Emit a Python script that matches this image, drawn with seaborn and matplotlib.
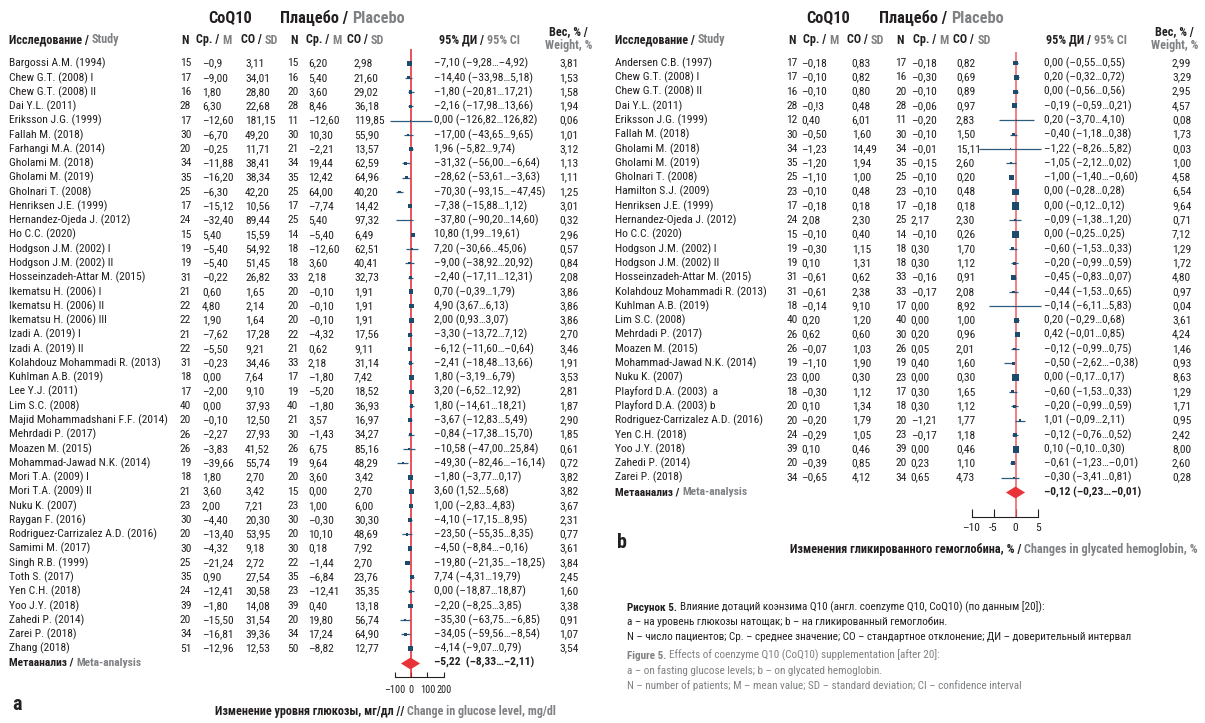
import numpy as np
import pandas as pd
import matplotlib
matplotlib.use('Agg')
import matplotlib.pyplot as plt
import seaborn as sns
from matplotlib import font_manager
from matplotlib.font_manager import FontProperties

# ---------------- panel a: fasting glucose ----------------
a_studies = [
    "Bargossi A.M. (1994)", "Chew G.T. (2008) I", "Chew G.T. (2008) II", "Dai Y.L. (2011)",
    "Eriksson J.G. (1999)", "Fallah M. (2018)", "Farhangi M.A. (2014)", "Gholami M. (2018)",
    "Gholami M. (2019)", "Gholnari T. (2008)", "Henriksen J.E. (1999)", "Hernandez-Ojeda J. (2012)",
    "Ho C.C. (2020)", "Hodgson J.M. (2002) I", "Hodgson J.M. (2002) II", "Hosseinzadeh-Attar M. (2015)",
    "Ikematsu H. (2006) I", "Ikematsu H. (2006) II", "Ikematsu H. (2006) III", "Izadi A. (2019) I",
    "Izadi A. (2019) II", "Kolahdouz Mohammadi R. (2013)", "Kuhlman A.B. (2019)", "Lee Y.J. (2011)",
    "Lim S.C. (2008)", "Majid Mohammadshani F.F. (2014)", "Mehrdadi P. (2017)", "Moazen M. (2015)",
    "Mohammad-Jawad N.K. (2014)", "Mori T.A. (2009) I", "Mori T.A. (2009) II", "Nuku K. (2007)",
    "Raygan F. (2016)", "Rodriguez-Carrizalez A.D. (2016)", "Samimi M. (2017)", "Singh R.B. (1999)",
    "Toth S. (2017)", "Yen C.H. (2018)", "Yoo J.Y. (2018)", "Zahedi P. (2014)",
    "Zarei P. (2018)", "Zhang (2018)"]
a_n1 = [15, 17, 16, 28, 17, 30, 20, 34, 35, 25, 17, 24, 15, 19, 19, 31, 21, 22, 22, 21, 22,
        31, 18, 17, 40, 20, 26, 26, 19, 18, 21, 23, 30, 20, 30, 25, 35, 24, 39, 20, 34, 51]
a_m1 = ["–0,9", "–9,00", "1,80", "6,30", "–12,60", "–6,70", "–0,25", "–11,88", "–16,20", "–6,30",
        "–15,12", "–32,40", "5,40", "–5,40", "–5,40", "–0,22", "0,60", "4,80", "1,90", "–7,62",
        "–5,50", "–0,23", "0,00", "–2,00", "0,00", "–0,10", "–2,27", "–3,83", "–39,66", "1,80",
        "3,60", "2,00", "–4,40", "–13,40", "–4,32", "–21,24", "0,90", "–12,41", "–1,80", "–15,50",
        "–16,81", "–12,96"]
a_sd1 = ["3,11", "34,01", "28,80", "22,68", "181,15", "49,20", "11,71", "38,41", "38,34", "42,20",
         "10,56", "89,44", "15,59", "54,92", "51,45", "26,82", "1,65", "2,14", "1,64", "17,28",
         "9,21", "34,46", "7,64", "9,10", "37,93", "12,50", "27,93", "41,52", "55,74", "2,70",
         "3,42", "7,21", "20,30", "53,95", "9,18", "2,72", "27,54", "30,58", "14,08", "31,54",
         "39,36", "12,53"]
a_n2 = [15, 16, 20, 28, 11, 30, 21, 34, 35, 25, 17, 25, 14, 18, 18, 33, 20, 20, 20, 22, 21,
        33, 17, 19, 40, 21, 30, 26, 19, 20, 15, 23, 30, 20, 30, 22, 35, 23, 39, 20, 34, 50]
a_m2 = ["6,20", "5,40", "3,60", "8,46", "–12,60", "10,30", "–2,21", "19,44", "12,42", "64,00",
        "–7,74", "5,40", "–5,40", "–12,60", "3,60", "2,18", "–0,10", "–0,10", "–0,10", "–4,32",
        "0,62", "2,18", "–1,80", "–5,20", "–1,80", "3,57", "–1,43", "6,75", "9,64", "3,60",
        "0,00", "1,00", "–0,30", "10,10", "0,18", "–1,44", "–6,84", "–12,41", "0,40", "19,80",
        "17,24", "–8,82"]
a_sd2 = ["2,98", "21,60", "29,02", "36,18", "119,85", "55,90", "13,57", "62,59", "64,96", "40,20",
         "14,42", "97,32", "6,49", "62,51", "40,41", "32,73", "1,91", "1,91", "1,91", "17,56",
         "9,11", "31,14", "7,42", "18,52", "36,93", "16,97", "34,27", "85,16", "48,29", "3,42",
         "2,70", "6,00", "30,30", "48,69", "7,92", "2,70", "23,76", "35,35", "13,18", "56,74",
         "64,90", "12,77"]
a_est = [-7.10, -14.40, -1.80, -2.16, 0.00, -17.00, 1.96, -31.32, -28.62, -70.30, -7.38, -37.80,
         10.80, 7.20, -9.00, -2.40, 0.70, 4.90, 2.00, -3.30, -6.12, -2.41, 1.80, 3.20, 1.80, -3.67,
         -0.84, -10.58, -49.30, -1.80, 3.60, 1.00, -4.10, -23.50, -4.50, -19.80, 7.74, 0.00, -2.20,
         -35.30, -34.05, -4.14]
a_lo = [-9.28, -33.98, -20.81, -17.98, -126.82, -43.65, -5.82, -56.00, -53.61, -93.15, -15.88,
        -90.20, 1.99, -30.66, -38.92, -17.11, -0.39, 3.67, 0.93, -13.72, -11.60, -18.48, -3.19,
        -6.52, -14.61, -12.83, -17.38, -47.00, -82.46, -3.77, 1.52, -2.83, -17.15, -55.35, -8.84,
        -21.35, -4.31, -18.87, -8.25, -63.75, -59.56, -9.07]
a_hi = [-4.92, 5.18, 17.21, 13.66, 126.82, 9.65, 9.74, -6.64, -3.63, -47.45, 1.12, 14.60, 19.61,
        45.06, 20.92, 12.31, 1.79, 6.13, 3.07, 7.12, -0.64, 13.66, 6.79, 12.92, 18.21, 5.49, 15.70,
        25.84, -16.14, 0.17, 5.68, 4.83, 8.95, 8.35, -0.16, -18.25, 19.79, 18.87, 3.85, -6.85,
        -8.54, 0.79]
a_weight = [3.81, 1.53, 1.58, 1.94, 0.06, 1.01, 3.12, 1.13, 1.11, 1.25, 3.01, 0.32, 2.96, 0.57,
            0.84, 2.08, 3.86, 3.86, 3.86, 2.70, 3.46, 1.91, 3.53, 2.81, 1.87, 2.90, 1.85, 0.61,
            0.72, 3.82, 3.82, 3.67, 2.31, 0.77, 3.61, 3.84, 2.45, 1.60, 3.38, 0.91, 1.07, 3.54]
a_meta = [-5.22, -8.33, -2.11]
a_ticks = [-100, 0, 100, 200]
a_ticklabels = ["–100", "0", "100", "200"]

# ---------------- panel b: glycated haemoglobin ----------------
b_studies = [
    "Andersen C.B. (1997)", "Chew G.T. (2008) I", "Chew G.T. (2008) II", "Dai Y.L. (2011)",
    "Eriksson J.G. (1999)", "Fallah M. (2018)", "Gholami M. (2018)", "Gholami M. (2019)",
    "Gholnari T. (2008)", "Hamilton S.J. (2009)", "Henriksen J.E. (1999)", "Hernandez-Ojeda J. (2012)",
    "Ho C.C. (2020)", "Hodgson J.M. (2002) I", "Hodgson J.M. (2002) II", "Hosseinzadeh-Attar M. (2015)",
    "Kolahdouz Mohammadi R. (2013)", "Kuhlman A.B. (2019)", "Lim S.C. (2008)", "Mehrdadi P. (2017)",
    "Moazen M. (2015)", "Mohammad-Jawad N.K. (2014)", "Nuku K. (2007)", "Playford D.A. (2003)  a",
    "Playford D.A. (2003) b", "Rodriguez-Carrizalez A.D. (2016)", "Yen C.H. (2018)", "Yoo J.Y. (2018)",
    "Zahedi P. (2014)", "Zarei P. (2018)"]
b_n1 = [17, 17, 16, 28, 12, 30, 34, 35, 25, 23, 17, 24, 15, 19, 19, 31, 31, 18, 40, 26, 26, 19,
        23, 18, 20, 20, 24, 39, 20, 34]
b_m1 = ["–0,18", "–0,10", "–0,10", "–0,!3", "0,40", "–0,50", "–1,23", "–1,20", "–1,10", "–0,10",
        "–0,18", "2,08", "–0,10", "–0,30", "0,10", "–0,61", "–0,61", "–0,14", "0,20", "0,62",
        "–0,07", "–1,10", "0,00", "–0,30", "0,10", "–0,20", "–0,29", "0,10", "–0,39", "–0,65"]
b_sd1 = ["0,83", "0,82", "0,80", "0,48", "6,01", "1,60", "14,49", "1,94", "1,00", "0,48", "0,18",
         "2,30", "0,40", "1,15", "1,31", "0,62", "2,38", "9,10", "1,20", "0,60", "1,03", "1,90",
         "0,30", "1,12", "1,34", "1,79", "1,05", "0,46", "0,85", "4,12"]
b_n2 = [17, 16, 20, 28, 11, 30, 34, 35, 25, 23, 17, 25, 14, 18, 18, 33, 33, 17, 40, 30, 26, 19,
        23, 17, 18, 20, 23, 39, 20, 34]
b_m2 = ["–0,18", "–0,30", "–0,10", "–0,06", "–0,20", "–0,10", "–0,01", "–0,15", "–0,10", "–0,10",
        "–0,18", "2,17", "–0,10", "0,30", "0,30", "–0,16", "–0,17", "0,00", "0,00", "0,20",
        "0,05", "0,40", "0,00", "0,30", "0,30", "–1,21", "–0,17", "0,00", "0,23", "0,65"]
b_sd2 = ["0,82", "0,69", "0,89", "0,97", "2,83", "1,50", "15,11", "2,60", "0,20", "0,48", "0,18",
         "2,30", "0,26", "1,70", "1,12", "0,91", "2,08", "8,92", "1,00", "0,96", "2,01", "1,60",
         "0,30", "1,65", "1,12", "1,77", "1,18", "0,46", "1,10", "4,73"]
b_est = [0.00, 0.20, 0.00, -0.19, 0.20, -0.40, -1.22, -1.05, -1.00, 0.00, 0.00, -0.09, 0.00,
         -0.60, -0.20, -0.45, -0.44, -0.14, 0.20, 0.42, -0.12, -0.50, 0.00, -0.60, -0.20, 1.01,
         -0.12, 0.10, -0.61, -0.30]
b_lo = [-0.55, -0.32, -0.56, -0.59, -3.70, -1.18, -8.26, -2.12, -1.40, -0.28, -0.12, -1.38, -0.25,
        -1.53, -0.99, -0.83, -1.53, -6.11, -0.29, -0.01, -0.99, -2.62, -0.17, -1.53, -0.99, -0.09,
        -0.76, -0.10, -1.23, -3.41]
b_hi = [0.55, 0.72, 0.56, 0.21, 4.10, 0.38, 5.82, 0.02, -0.60, 0.28, 0.12, 1.20, 0.25, 0.33, 0.59,
        0.07, 0.65, 5.83, 0.68, 0.85, 0.75, -0.38, 0.17, 0.33, 0.59, 2.11, 0.52, 0.30, -0.01, 0.81]
b_weight = [2.99, 3.29, 2.95, 4.57, 0.08, 1.73, 0.03, 1.00, 4.58, 6.54, 9.64, 0.71, 7.12, 1.29,
            1.72, 4.80, 0.97, 0.04, 3.61, 4.24, 1.46, 0.93, 8.63, 1.29, 1.71, 0.95, 2.42, 8.00,
            2.60, 0.28]
b_meta = [-0.12, -0.23, -0.01]
b_ticks = [-10, -5, 0, 5]
b_ticklabels = ["–10", "-5", "0", "5"]

# ---------------- style ----------------
sns.set_theme(style="white")
avail = {f.name for f in font_manager.fontManager.ttflist}
FAM = "DejaVu Sans"
for cand in ["Liberation Sans Narrow", "Roboto Condensed", "Noto Sans Condensed",
             "Open Sans Condensed", "Roboto", "Liberation Sans"]:
    if cand in avail:
        FAM = cand
        break
plt.rcParams["font.family"] = [FAM, "DejaVu Sans"]

BLACK = "#231f20"
GRAY = "#7f8184"
NAVY = "#1c4b6c"
WHISK = "#2f5b7c"
RED_A = "#e3232a"
RED_B = "#ee5b60"
DIAM = "#ea3338"

W, H = 1205, 723
fig = plt.figure(figsize=(W / 100, H / 100), dpi=100)
bg = fig.add_axes([0, 0, 1, 1])
bg.set_xlim(0, W)
bg.set_ylim(H, 0)
bg.axis("off")
renderer = fig.canvas.get_renderer()


def width_px(s, weight="normal"):
    fp = FontProperties(family=[FAM, "DejaVu Sans"], size=10, weight=weight)
    w, h, d = renderer.get_text_width_height_descent(s, fp, ismath=False)
    return w


def fit(s, target, weight="normal"):
    return 10.0 * target / width_px(s, weight)


FS_ROW = 0.5 * (fit("Rodriguez-Carrizalez A.D. (2016)", 147) + fit("Majid Mohammadshani F.F. (2014)", 157))
FS_HDR = fit("Исследование / Study", 110, "bold")
FS_TOP = fit("Плацебо / Placebo", 124, "bold")
FS_XLA = fit("Изменение уровня глюкозы, мг/дл // Change in glucose level, mg/dl", 341, "bold")
FS_XLB = fit("Изменения гликированного гемоглобина, % / Changes in glycated hemoglobin, %", 407, "bold")
FS_CAP = fit("N – число пациентов; Ср. – среднее значение; СО – стандартное отклонение; ДИ – доверительный интервал", 506)


def txt(x, y, parts, size, weight="normal", ha="left"):
    """parts: str or list of (text, colour[, weight]) drawn one after another."""
    if isinstance(parts, str):
        parts = [(parts, BLACK)]
    p0 = parts[0]
    t = bg.text(x, y, p0[0], color=p0[1], fontsize=size,
                fontweight=p0[2] if len(p0) > 2 else weight, ha=ha, va="center")
    prev = t
    for p in parts[1:]:
        prev = bg.annotate(p[0], xy=(1, 0), xycoords=prev, xytext=(size * 0.25, 0),
                           textcoords="offset points", color=p[1], fontsize=size,
                           fontweight=p[2] if len(p) > 2 else weight, ha="left", va="bottom")
    return t


def fmt(v):
    return f"{v:.2f}".replace(".", ",").replace("-", "–")


def ci_text(e, lo, hi, sep=" "):
    return f"{fmt(e)}{sep}({fmt(lo)}…{fmt(hi)})"


panels = [
    dict(studies=a_studies, n1=a_n1, m1=a_m1, sd1=a_sd1, n2=a_n2, m2=a_m2, sd2=a_sd2,
         est=a_est, lo=a_lo, hi=a_hi, w=a_weight, meta=a_meta, ticks=a_ticks, tl=a_ticklabels,
         y0=63.5, dy=14.27, cols=[9, 180, 202, 245, 287, 308, 354, 434, 559],
         hdr=[9, 181.6, 196.2, 241, 290.6, 306, 347.2, 439, 548.8, 545],
         top=[208.4, 280.3], ax_x=(394.5, 443.8), xlim=(-100, 200), ax_y=(49, 677),
         red=RED_A, tick_len=3.5, pad=6.0, meta_sep="  ", tick_fs=0.9,
         letter=("a", 12, 704), xl=([("Изменение уровня глюкозы, мг/дл //", BLACK),
                                     ("Change in glucose level, mg/dl", GRAY)], 215, 711, FS_XLA)),
    dict(studies=b_studies, n1=b_n1, m1=b_m1, sd1=b_sd1, n2=b_n2, m2=b_m2, sd2=b_sd2,
         est=b_est, lo=b_lo, hi=b_hi, w=b_weight, meta=b_meta, ticks=b_ticks, tl=b_ticklabels,
         y0=63.0, dy=14.3, cols=[615, 786.5, 801, 851.7, 895.4, 910.8, 956, 1044.5, 1172],
         hdr=[615, 788, 802.7, 847, 896.5, 912.7, 953.3, 1046, 1154.8, 1151.4],
         top=[806.6, 878.8], ax_x=(971.5, 1038.4), xlim=(-10, 5.2), ax_y=(52, 517),
         red=RED_B, tick_len=5.5, pad=4.5, meta_sep=" ", tick_fs=1.0,
         letter=("b", 617, 543), xl=([("Изменения гликированного гемоглобина, % /", BLACK),
                                      ("Changes in glycated hemoglobin, %", GRAY)], 790, 550, FS_XLB)),
]

for P in panels:
    c = P["cols"]
    h = P["hdr"]
    # top headers
    txt(P["top"][0], 18, "CoQ10", FS_TOP, "bold")
    txt(P["top"][1], 18, [("Плацебо /", BLACK), ("Placebo", GRAY)], FS_TOP, "bold")
    # column headers
    txt(h[0], 40, [("Исследование /", BLACK), ("Study", GRAY)], FS_HDR, "bold")
    txt(h[1], 40, "N", FS_HDR, "bold")
    txt(h[2], 40, [("Ср. /", BLACK), ("М", GRAY)], FS_HDR, "bold")
    txt(h[3], 40, [("СО /", BLACK), ("SD", GRAY)], FS_HDR, "bold")
    txt(h[4], 40, "N", FS_HDR, "bold")
    txt(h[5], 40, [("Ср. /", BLACK), ("М", GRAY)], FS_HDR, "bold")
    txt(h[6], 40, [("СО /", BLACK), ("SD", GRAY)], FS_HDR, "bold")
    txt(h[7], 40, [("95% ДИ /", BLACK), ("95% CI", GRAY)], FS_HDR, "bold")
    txt(h[8], 32, "Вес, % /", FS_HDR, "bold")
    txt(h[9], 45.5, [("Weight, %", GRAY)], FS_HDR, "bold")

    n = len(P["studies"])
    for i in range(n):
        y = P["y0"] + i * P["dy"]
        vals = [P["studies"][i], str(P["n1"][i]), P["m1"][i], P["sd1"][i], str(P["n2"][i]),
                P["m2"][i], P["sd2"][i], ci_text(P["est"][i], P["lo"][i], P["hi"][i]),
                fmt(P["w"][i])]
        for x, v in zip(c, vals):
            txt(x, y, v, FS_ROW)
    ym = P["y0"] + n * P["dy"]
    txt(c[0], ym, [("Метаанализ /", BLACK), ("Meta-analysis", GRAY)], FS_ROW, "bold")
    txt(c[7], ym, ci_text(*P["meta"], sep=P["meta_sep"]), FS_ROW, "bold")

    # forest plot axes
    x0, x1 = P["ax_x"]
    yt, yb = P["ax_y"]
    ax = fig.add_axes([x0 / W, 1 - yb / H, (x1 - x0) / W, (yb - yt) / H])
    ax.patch.set_visible(False)
    df = pd.DataFrame({"est": P["est"], "lo": P["lo"], "hi": P["hi"], "w": P["w"],
                       "row": np.arange(n)})
    ax.axvline(0, color=P["red"], lw=1.1, zorder=1)
    ax.hlines(df["row"], df["lo"], df["hi"], color=WHISK, lw=0.9, clip_on=False, zorder=2)
    sns.scatterplot(data=df, x="est", y="row", size="w", sizes=(0.3, 30), size_norm=(0, 10),
                    marker="s", color=NAVY, linewidth=0, legend=False, ax=ax, clip_on=False,
                    zorder=3)
    diamond = [(-1, 0), (0, 0.62), (1, 0), (0, -0.62), (-1, 0)]
    mdf = pd.DataFrame({"est": [P["meta"][0]], "row": [n]})
    sns.scatterplot(data=mdf, x="est", y="row", marker=diamond, s=190, color=DIAM,
                    linewidth=0, legend=False, ax=ax, clip_on=False, zorder=4)
    ax.set_xlim(*P["xlim"])
    ax.set_ylim((yb - P["y0"]) / P["dy"], (yt - P["y0"]) / P["dy"])
    ax.set_xlabel("")
    ax.set_ylabel("")
    ax.set_yticks([])
    ax.set_xticks(P["ticks"], P["tl"])
    sns.despine(ax=ax, left=True)
    ax.spines["bottom"].set_color(BLACK)
    ax.spines["bottom"].set_linewidth(0.8)
    ax.tick_params(axis="x", direction="in", length=P["tick_len"], width=0.8, colors=BLACK,
                   labelsize=FS_ROW * P["tick_fs"], pad=P["pad"], bottom=True)

    # x label and panel letter
    parts, xx, yy, fs = P["xl"]
    txt(xx, yy, parts, fs, "bold")
    L, lx, ly = P["letter"]
    txt(lx, ly, L, FS_ROW * 1.75, "bold")

# caption
cap_x = 627
txt(cap_x, 608, [("Рисунок 5.", BLACK, "bold"),
                 ("Влияние дотаций коэнзима Q10 (англ. coenzyme Q10, CoQ10) (по данным [20]):", BLACK)],
    FS_CAP)
txt(cap_x, 622, "a – на уровень глюкозы натощак; b – на гликированный гемоглобин.", FS_CAP)
txt(cap_x, 637, "N – число пациентов; Ср. – среднее значение; СО – стандартное отклонение; ДИ – доверительный интервал", FS_CAP)
txt(cap_x, 656, [("Figure 5.", GRAY, "bold"),
                 ("Effects of coenzyme Q10 (CoQ10) supplementation [after 20]:", GRAY)], FS_CAP)
txt(cap_x, 671, [("a – on fasting glucose levels; b – on glycated hemoglobin.", GRAY)], FS_CAP)
txt(cap_x, 686, [("N – number of patients; M – mean value; SD – standard deviation; CI – confidence interval", GRAY)], FS_CAP)

fig.savefig("out.png", dpi=100, facecolor="white")
